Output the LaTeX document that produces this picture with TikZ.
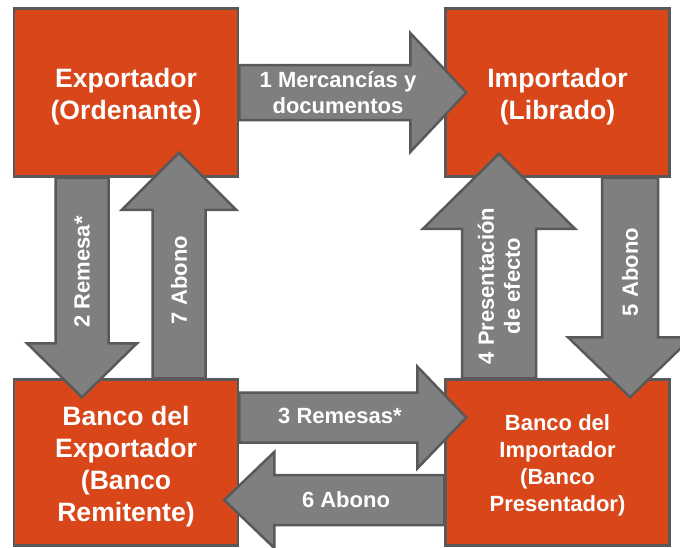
\documentclass[tikz,border=0pt]{standalone}
\usepackage{fontspec}
\setmainfont{Liberation Sans}
\usetikzlibrary{calc}
\definecolor{naranja}{HTML}{D84619}
\definecolor{gris}{HTML}{7F7F7F}
\definecolor{borde}{HTML}{595959}
\tikzset{
	caja/.style={draw=borde,line width=2.5pt,fill=naranja,minimum width=224pt},
	texto/.style={text=white,align=center,font=\bfseries\fontsize{26.6}{32}\selectfont},
	flecha/.style={draw=borde,line width=2.5pt,fill=gris},
	etiq/.style={text=white,align=center,font=\bfseries\fontsize{22}{26}\selectfont}
}
% start, tip, half shaft, half head, head length
\newcommand{\flechabloque}[5]{
	\coordinate (fb) at ($(#2)!#5!(#1)$);
	\draw[flecha] ($(#1)!#3!90:(#2)$) -- ($(fb)!#3!90:(#2)$) -- ($(fb)!#4!90:(#2)$) -- (#2)
		-- ($(fb)!#4!-90:(#2)$) -- ($(fb)!#3!-90:(#2)$) -- ($(#1)!#3!-90:(#2)$) -- cycle;
}
\begin{document}
\begin{tikzpicture}[x=1pt,y=-1pt]
			\useasboundingbox[fill=white] (0,0) rectangle (680,547);
			% boxes
			\node[caja,minimum height=168pt] (exp) at (126,92.5) {};
			\node[caja,minimum height=168pt] (imp) at (557.5,92.5) {};
			\node[caja,minimum height=166pt] (bexp) at (126,462.5) {};
			\node[caja,minimum height=166pt] (bimp) at (557.5,462.5) {};
			\node[texto] (exp-t) at ([yshift=-4pt]exp.center) {Exportador\\(Ordenante)};
			\node[texto] (imp-t) at ([yshift=-4pt]imp.center) {Importador\\(Librado)};
			\node[texto] (bexp-t) at ([yshift=-4pt]bexp.center) {Banco del\\Exportador\\(Banco\\Remitente)};
			\node[texto,font=\bfseries\fontsize{22}{27}\selectfont] (bimp-t) at ([yshift=-3pt]bimp.center) {Banco del\\Importador\\(Banco\\Presentador)};
			% arrow ends
			\coordinate (a1) at (exp.east);
			\coordinate (t1) at ($(imp.west)+(22,0)$);
			\coordinate (a2) at ($(exp.south)+(-44,0)$);
			\coordinate (t2) at ($(bexp.north)+(-44,19)$);
			\coordinate (a3) at ($(bexp.east)+(0,-45)$);
			\coordinate (t3) at ($(bimp.west)+(22,-45)$);
			\coordinate (a4) at ($(bimp.north)+(-58.5,0)$);
			\coordinate (t4) at ($(imp.south)+(-58.5,-24)$);
			\coordinate (a5) at ($(imp.south)+(72.5,0)$);
			\coordinate (t5) at ($(bimp.north)+(72.5,19)$);
			\coordinate (a6) at ($(bimp.west)+(0,37.5)$);
			\coordinate (t6) at ($(bexp.east)+(-15,37.5)$);
			\coordinate (a7) at ($(bexp.north)+(53,0)$);
			\coordinate (t7) at ($(exp.south)+(53,-25)$);
			% arrows
			\flechabloque{a1}{t1}{27.5pt}{59.5pt}{56pt}
			\flechabloque{a2}{t2}{26.5pt}{55pt}{54pt}
			\flechabloque{a3}{t3}{25pt}{51pt}{49pt}
			\flechabloque{a4}{t4}{37pt}{76pt}{75pt}
			\flechabloque{a5}{t5}{28pt}{62pt}{60pt}
			\flechabloque{a6}{t6}{25pt}{48pt}{50pt}
			\flechabloque{a7}{t7}{26.5pt}{57pt}{57pt}
			% labels
			\node[etiq] (l1) at (338,93) {1 Mercancías y\\documentos};
			\node[etiq,rotate=90] (l2) at (82,272) {2 Remesa*};
			\node[etiq] (l3) at (340,416) {3 Remesas*};
			\node[etiq,rotate=90] (l4) at (499,286) {4 Presentación\\de efecto};
			\node[etiq,rotate=90] (l5) at (630,272) {5 Abono};
			\node[etiq] (l6) at (346,500) {6 Abono};
			\node[etiq,rotate=90] (l7) at (179,280) {7 Abono};
		\end{tikzpicture}
\end{document}
